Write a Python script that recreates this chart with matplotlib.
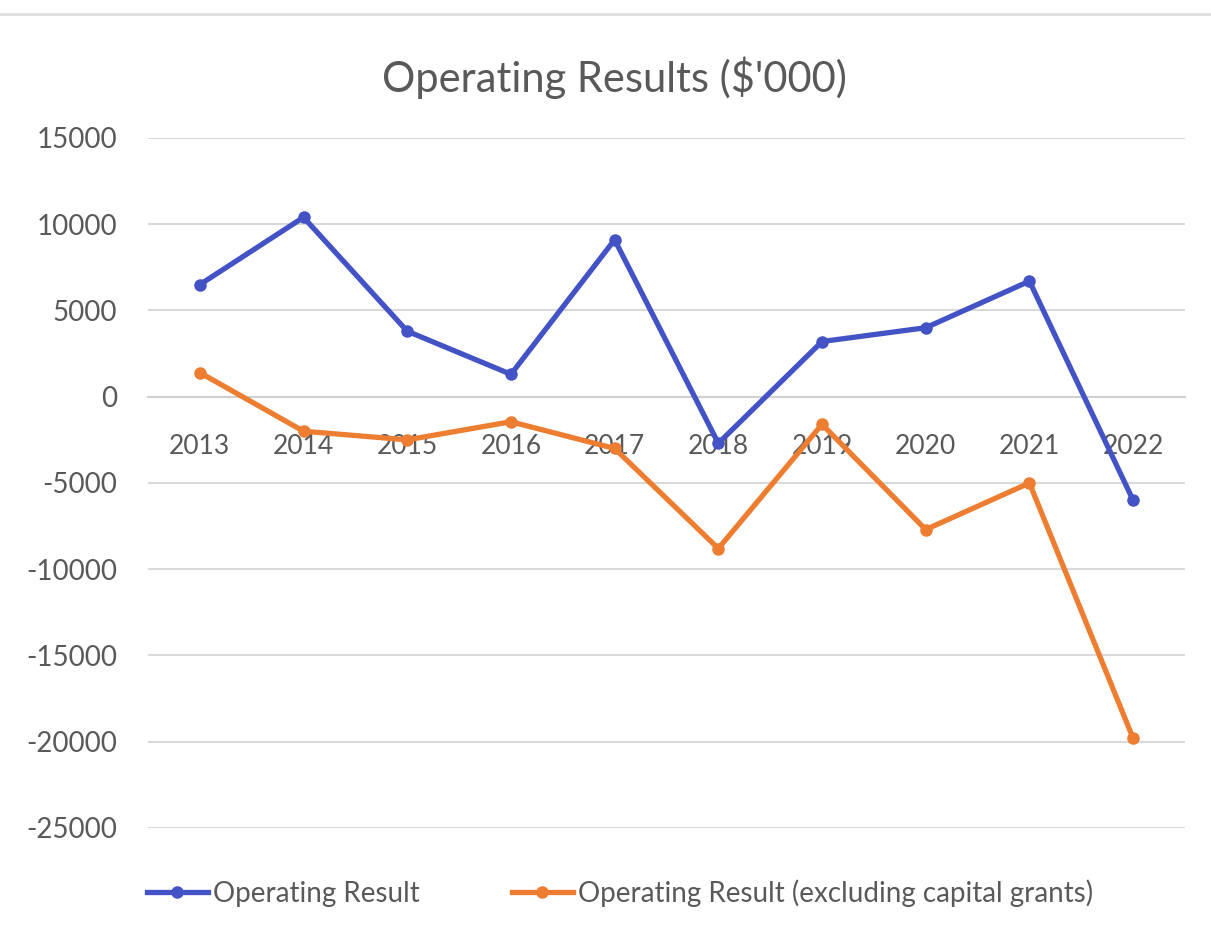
import matplotlib
matplotlib.use('Agg')
import matplotlib.pyplot as plt
import numpy as np

years = ['2013', '2014', '2015', '2016', '2017', '2018', '2019', '2020', '2021', '2022']
operating_result = [6500, 10400, 3800, 1300, 9100, -2700, 3200, 4000, 6700, -6000]
operating_excl_grants = [1400, -2000, -2500, -1450, -3000, -8800, -1600, -7700, -5000, -19800]
y_ticks = [15000, 10000, 5000, 0, -5000, -10000, -15000, -20000, -25000]

plt.rcParams['font.family'] = ['Lato', 'DejaVu Sans']

fig = plt.figure(figsize=(12.11, 9.36), dpi=100)
ax = fig.add_axes([0.1222, 0.1154, 0.8563, 0.7372])

x = np.arange(len(years))
blue = '#4353C5'
orange = '#ED7D31'

ax.plot(x, operating_result, color=blue, lw=3.8, marker='o', ms=8,
        label='Operating Result', zorder=3)
ax.plot(x, operating_excl_grants, color=orange, lw=3.8, marker='o', ms=8,
        label='Operating Result (excluding capital grants)', zorder=3)

ax.set_xlim(-0.5, len(years) - 0.5)
ax.set_ylim(-25000, 15000)
ax.set_yticks(y_ticks)
ax.set_yticklabels([str(v) for v in y_ticks])
ax.yaxis.grid(True, color='#D9D9D9', lw=1.5)
ax.set_axisbelow(True)

for s in ['top', 'right', 'left']:
    ax.spines[s].set_visible(False)
ax.spines['bottom'].set_position(('data', 0))
ax.spines['bottom'].set_color('#D0D0D0')
ax.spines['bottom'].set_linewidth(1.5)

ax.set_xticks(x)
ax.set_xticklabels(years)
ax.tick_params(axis='x', length=0, pad=27, labelsize=19, labelcolor='#595959')
ax.tick_params(axis='y', length=0, pad=22, labelsize=20, labelcolor='#595959')

fig.suptitle("Operating Results ($'000)", x=0.507, y=0.94, fontsize=30, color='#595959')

fig.legend(loc='center', bbox_to_anchor=(0.512, 0.046), ncol=2, frameon=False,
           fontsize=20, labelcolor='#595959', handlelength=2.2, handletextpad=0.2,
           columnspacing=3.3)

fig.add_artist(plt.Line2D([0.0, 1.0], [0.985, 0.985], color='#DDDDDD', lw=2,
                          transform=fig.transFigure))

fig.savefig('out.png', dpi=100, facecolor='white')
